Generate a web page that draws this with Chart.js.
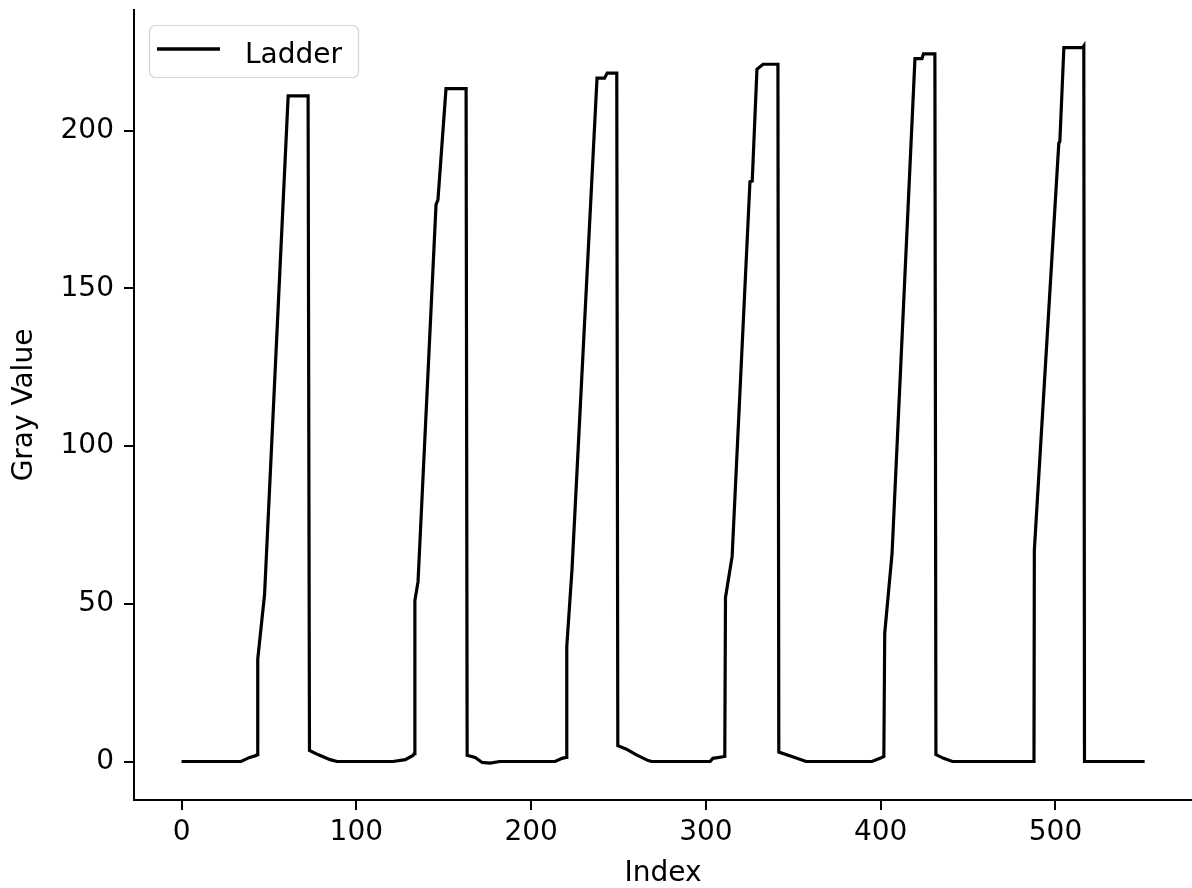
<!DOCTYPE html>
<html>
<head>
<meta charset="utf-8">
<script src="https://cdn.jsdelivr.net/npm/chart.js@4.4.0/dist/chart.umd.min.js"></script>
<style>
    html, body { margin: 0; padding: 0; background: #fff; }
    #wrap { width: 1192px; height: 888px; }
</style>
</head>
<body>
<div id="wrap"><canvas id="myChart"></canvas></div>
<script>
// profile breakpoints
const indexValues = [
    0, 34, 39, 42.6, 43.2, 43.6, 47.5, 61, 72.4, 73.2, 78, 85, 89,
    121, 128, 132.4, 133.1, 133.5, 135.3, 145.6, 146.7, 151.3, 162.8, 163.4, 168, 172, 176.5, 182,
    213.7, 217.7, 220, 220.4, 223.4, 237.7, 242, 243.5, 249, 249.6, 254.3, 260, 267, 269,
    302.4, 304, 310.8, 311.2, 315, 325.2, 326.5, 329.2, 332.7, 341.2, 341.7, 350, 357.3,
    395, 399.6, 401.8, 402.3, 406.5, 419.6, 423.6, 424.5, 431, 431.6, 436, 441,
    487.7, 487.9, 501.9, 502.5, 504.8, 515.6, 516.2, 516.6, 551
];
const grayValues = [
    0, 0, 1.3, 1.9, 2.2, 32.5, 53, 211, 211, 3.5, 2.2, 0.6, 0,
    0, 0.6, 1.9, 2.5, 51, 57, 176.5, 178, 213.3, 213.3, 2, 1.3, -0.3, -0.5, 0,
    0, 1, 1.3, 36.5, 61, 216.6, 216.6, 218.2, 218.2, 5, 4, 2.2, 0.3, 0,
    0, 1, 1.6, 52, 65, 183.8, 184, 219.4, 221, 221, 3, 1.4, 0,
    0, 1, 1.6, 40.6, 66, 222.8, 222.8, 224.3, 224.3, 2.2, 1, 0,
    0, 67, 196, 196.5, 226.3, 226.3, 226.8, 0, 0
];
const xTicks = [0, 100, 200, 300, 400, 500];
const yTicks = [0, 50, 100, 150, 200];

const points = indexValues.map((x, i) => ({ x: x, y: grayValues[i] }));

const fontFamily = "'DejaVu Sans', sans-serif";
const fontSize = 28;

// matplotlib style legend inside the axes
const legendBox = {
    id: 'legendBox',
    afterDraw(chart) {
        const ctx = chart.ctx;
        const area = chart.chartArea;
        const ds = chart.data.datasets[0];
        const x = area.left + 15, y = area.top + 15, w = 209, h = 52;
        ctx.save();
        ctx.beginPath();
        ctx.roundRect(x + 0.5, y + 0.5, w, h, 6);
        ctx.fillStyle = 'rgba(255,255,255,0.8)';
        ctx.fill();
        ctx.strokeStyle = '#d4d4d4';
        ctx.lineWidth = 1.2;
        ctx.stroke();
        ctx.beginPath();
        ctx.moveTo(x + 8, y + 24);
        ctx.lineTo(x + 71, y + 24);
        ctx.strokeStyle = ds.borderColor;
        ctx.lineWidth = 3.5;
        ctx.stroke();
        ctx.fillStyle = '#000';
        ctx.font = fontSize + 'px ' + fontFamily;
        ctx.textBaseline = 'alphabetic';
        ctx.fillText(ds.label, x + 96, y + 38);
        ctx.restore();
    }
};

const ctx = document.getElementById('myChart').getContext('2d');
new Chart(ctx, {
    type: 'line',
    data: {
        datasets: [{
            label: 'Ladder',
            data: points,
            borderColor: '#000000',
            borderWidth: 3.2,
            pointRadius: 0,
            tension: 0,
            fill: false
        }]
    },
    options: {
        responsive: true,
        maintainAspectRatio: false,
        animation: false,
        layout: { padding: { top: 10, right: 0, left: 0, bottom: 0 } },
        plugins: {
            legend: { display: false },
            tooltip: { enabled: false }
        },
        scales: {
            x: {
                type: 'linear',
                min: -27.2,
                max: 578.1,
                afterBuildTicks: scale => { scale.ticks = xTicks.map(v => ({ value: v })); },
                afterFit: scale => {
                    scale.height = 88;
                    scale.paddingLeft = 0;
                    scale.paddingRight = 0;
                },
                grid: { drawOnChartArea: false, drawTicks: true, tickLength: 10, color: '#000', lineWidth: 2 },
                border: { display: true, color: '#000', width: 2 },
                ticks: { color: '#000', font: { family: fontFamily, size: fontSize }, padding: 6, maxRotation: 0 },
                title: { display: true, text: 'Index', color: '#000', font: { family: fontFamily, size: fontSize, lineHeight: 1 }, padding: { top: 0, bottom: 0 } }
            },
            y: {
                type: 'linear',
                min: -12.2,
                max: 238.2,
                afterBuildTicks: scale => { scale.ticks = yTicks.map(v => ({ value: v })); },
                afterFit: scale => {
                    scale.width = 134;
                    scale.paddingTop = 0;
                    scale.paddingBottom = 0;
                },
                grid: { drawOnChartArea: false, drawTicks: true, tickLength: 10, color: '#000', lineWidth: 2 },
                border: { display: true, color: '#000', width: 2 },
                ticks: { color: '#000', font: { family: fontFamily, size: fontSize }, padding: 10 },
                title: { display: true, text: 'Gray Value', color: '#000', font: { family: fontFamily, size: fontSize, lineHeight: 1 }, padding: { top: 11, bottom: 0 } }
            }
        }
    },
    plugins: [legendBox]
});
</script>
</body>
</html>
